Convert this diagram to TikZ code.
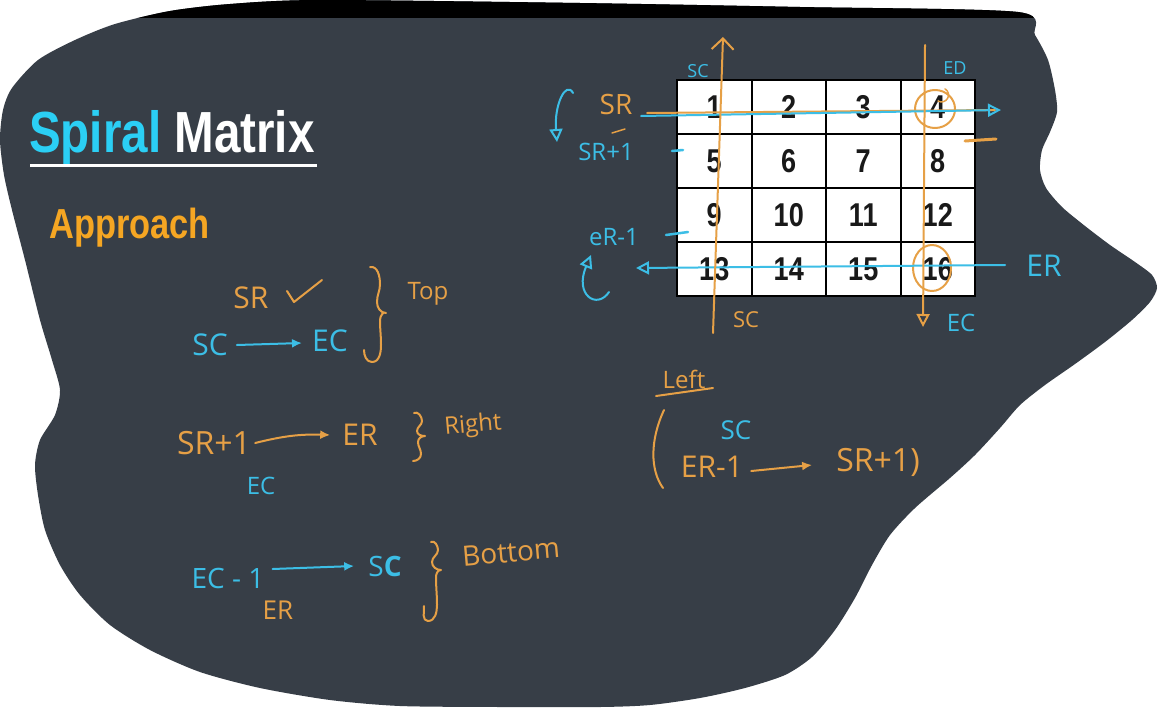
\documentclass[tikz,border=0pt]{standalone}
\usepackage{fontspec}
\usetikzlibrary{arrows.meta,calc}
\newfontfamily\titlef[FakeStretch=0.82]{Liberation Sans}
\newfontfamily\hand{Open Sans}
\definecolor{bg}{HTML}{373E47}
\definecolor{tcyan}{HTML}{2BCFF5}
\definecolor{aorange}{HTML}{F5A623}
\definecolor{hor}{HTML}{E6A046}
\definecolor{hcy}{HTML}{3CBEE6}
\begin{document}
\begin{tikzpicture}[x=1pt,y=-1pt,
  hw/.style={font=\hand\fontsize{#1}{#1}\selectfont, inner sep=0pt},
  ho/.style={hw=#1, text=hor},
  hc/.style={hw=#1, text=hcy},
  ol/.style={draw=hor, line width=2pt, line cap=round, line join=round},
  cl/.style={draw=hcy, line width=2pt, line cap=round, line join=round},
  cell/.style={draw=black, line width=2pt, fill=white, minimum width=74.5pt, minimum height=54pt,
    inner sep=0pt, font=\titlef\bfseries\fontsize{33}{33}\selectfont, text=black!90},
  dothead/.style={-{Latex[length=10pt,width=9pt]}},
  openhead/.style={-{Triangle[open,length=13pt,width=13pt]}}]
\useasboundingbox (0,0) rectangle (1158,707);
\fill[white] (0,0) rectangle (1158,707);
% blob
\def\blob{plot[smooth cycle, tension=0.45] coordinates {
 (0,140) (3,110) (12,88) (38,60) (75,40) (115,24) (170,11) (230,4) (320,0) (580,3) (800,7) (1018,12)
 (1035,35) (1048,60) (1055,90) (1057,112) (1050,132) (1042,150) (1040,170) (1046,188) (1062,207)
 (1085,226) (1110,245) (1135,262) (1152,275) (1157,288) (1150,302) (1132,320) (1105,342) (1075,364)
 (1045,385) (1020,405) (1000,428) (975,455) (950,478) (915,508) (890,535) (872,565) (855,598)
 (835,630) (812,657) (785,675) (745,688) (700,698) (650,705) (600,707) (500,707) (400,706)
 (330,700) (260,688) (200,672) (150,650) (110,625) (80,595) (60,565) (45,530) (38,495) (35,465)
 (40,440) (55,415) (60,390) (52,360) (40,320) (25,260) (12,210) (4,175)}}
\path[fill=bg] \blob;
\begin{scope}
\clip \blob;
\fill[black] (0,0) rectangle (1158,18);
\end{scope}
% title
\node[anchor=base west, inner sep=0pt, font=\titlef\bfseries\fontsize{58}{58}\selectfont, text=white]
  (title) at (29,152) {\textcolor{tcyan}{Spiral} Matrix};
\draw[white, line width=3pt] (30,165) -- (317,165);
\node[anchor=base west, inner sep=0pt, font=\titlef\bfseries\fontsize{42}{42}\selectfont, text=aorange]
  (appr) at (49,238) {Approach};
% grid
\foreach \r in {1,...,4}{
  \foreach \c in {1,...,4}{
    \pgfmathtruncatemacro{\n}{(\r-1)*4+\c}
    \node[cell] (c\r\c) at ({677+74.5*(\c-0.5)},{80+54*(\r-0.5)}) {\n};
  }
}
% circles
\draw[ol] (935,109) ellipse [x radius=20, y radius=19];
\draw[ol, line width=1.5pt] (938,101) arc[start angle=120, end angle=-60, radius=7];
\draw[ol] (932,268) ellipse [x radius=19, y radius=23];
% SR row
\coordinate (srA) at (647,113);
\coordinate (srB) at (995,110);
\coordinate (srC) at (641,116);
\coordinate (srD) at (1001,110);
\draw[ol] (srA) -- (srB);
\draw[cl, openhead] (srC) -- (srD);
% ER row
\coordinate (erA) at (1005,265);
\coordinate (erB) at (636,268);
\draw[cl, openhead] (erA) -- (erB);
% vertical arrows
\coordinate (vlA) at (713,333);
\coordinate (vlB) at (723,37);
\draw[ol, -{Straight Barb[length=11pt,width=22pt]}] (vlA) -- (vlB);
\coordinate (vrA) at (925,45);
\coordinate (vrB) at (923,327);
\draw[ol, openhead] (vrA) -- (vrB);
% labels around matrix
\node[hc=18] (scT) at (698,71) {SC};
\node[hc=18] (edT) at (955,68) {ED};
\node[ho=28] (srL) at (616,104) {SR};
\node[hc=24] (sr1L) at (606,152) {SR+1};
\node[hc=24] (er1L) at (614,237) {eR-1};
\node[hc=30] (erL) at (1044,266) {ER};
\node[ho=22] (scB) at (746,320) {SC};
\node[hc=24] (ecB) at (961,323) {EC};
\draw[ol, line width=1.5pt] (612,133) -- (625,129);
\draw[cl, line width=2.5pt] (672,151) -- (683,150);
\draw[cl, line width=2.5pt] (666,235) -- (688,232);
\draw[ol, line width=3pt] (965,141) -- (996,139);
\coordinate (cuA) at (573,93);
\coordinate (cuB) at (557,142);
\draw[cl, openhead] (cuA) .. controls (566,80) and (554,105) .. (cuB);
\coordinate (clA) at (609,292);
\coordinate (clB) at (591,255);
\draw[cl, openhead] (clA) .. controls (597,310) and (574,295) .. (clB);
% Top block
\node[ho=30] (srT) at (251,298) {SR};
\draw[ol] (287,291) -- (294,302) -- (322,280);
\node[hc=30] (sc1) at (210,345) {SC};
\node[hc=30] (ec1) at (330,341) {EC};
\draw[cl, dothead] ($(sc1.east)+(9,0)$) -- ($(ec1.west)+(-10,2)$);
\draw[ol] (370,267) to[out=10,in=90] (380,284) to[out=-90,in=90] (377,302)
  to[out=-90,in=180] (386,313) to[out=135,in=90] (380,320) to[out=-90,in=90] (381,345)
  to[out=-90,in=0] (372,362) to[out=180,in=-90] (364,350);
\node[ho=24] (topL) at (428,294) {Top};
% Right block
\node[ho=32] (sr1R) at (214,443) {SR+1};
\node[ho=30] (erR) at (360,435) {ER};
\draw[ol, dothead] ($(sr1R.east)+(4,0)$) to[bend left=8] ($(erR.west)+(-12,0)$);
\draw[ol] (414,413) to[out=30,in=90] (422,421) to[out=-90,in=90] (417,431)
  to[out=-90,in=180] (425,436) to[out=180,in=90] (418,442) to[out=-90,in=90] (421,454)
  to[out=-90,in=0] (413,461);
\node[ho=24, rotate=5] (rightL) at (473,426) {Right};
\node[hc=24] (ec2) at (261,486) {EC};
% Bottom block
\node[hc=28] (ec3) at (228,578) {EC - 1};
\node[hc=28] (sc3) at (385,566) {S\textbf{C}};
\draw[cl, dothead] ($(ec3.east)+(8,-9)$) -- ($(sc3.west)+(-14,0)$);
\draw[ol] (431,542) to[out=30,in=90] (438,550) to[out=-90,in=90] (432,562)
  to[out=-90,in=180] (441,570) to[out=180,in=90] (436,577) to[out=-90,in=90] (437,605)
  to[out=-90,in=0] (428,621) to[out=180,in=-90] (424,606);
\node[ho=28, rotate=5] (botL) at (511,552) {Bottom};
\node[ho=26] (er3) at (278,610) {ER};
% Left block
\node[ho=24] (leftL) at (684,379) {Left};
\draw[ol] (656,396) -- (713,388);
\draw[ol] (664,410) .. controls (650,440) and (650,470) .. (663,488);
\node[hc=26] (sc4) at (736,430) {SC};
\node[ho=30] (er4) at (712,467) {ER-1};
\node[ho=32] (sr4) at (878,462) {SR+1)};
\draw[ol, dothead] ($(er4.east)+(8,4)$) -- ($(sr4.west)+(-24,3)$);
\end{tikzpicture}
\end{document}
